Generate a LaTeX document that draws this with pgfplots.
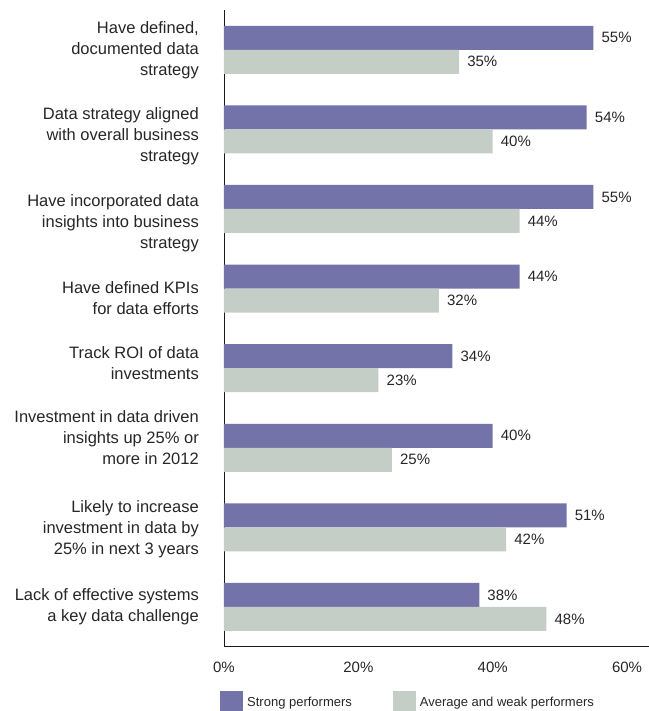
\documentclass[border=0pt]{standalone}
\usepackage{fontspec}
\setmainfont{Liberation Sans}
\usepackage{pgfplots}
\pgfplotsset{compat=1.18}
\definecolor{strong}{HTML}{7373A9}
\definecolor{weak}{HTML}{C4CEC6}
\definecolor{txt}{HTML}{262626}
\newcommand{\lab}[2]{\raisebox{#1}[0pt][0pt]{\begin{tabular}[t]{@{}r@{}}#2\end{tabular}}}
\begin{document}
\begin{tikzpicture}[x=1pt,y=1pt]
\useasboundingbox (-224,-65) rectangle (424,646);
\begin{axis}[
  at={(0,0)}, anchor=south west,
  scale only axis, width=429.9pt, height=636pt,
  xmin=0, xmax=64, ymin=-0.49, ymax=7.5,
  axis x line*=bottom, axis y line*=left,
  axis line style={black!90, line width=0.8pt},
  xtick={0,20,40,60}, xticklabels={0\%,20\%,40\%,60\%},
  ytick={0,1,2,3,4,5,6,7},
  yticklabels={
    {\lab{6pt}{Lack of effective systems\\a key data challenge}},
    {\lab{15pt}{Likely to increase\\investment in data by\\25\% in next 3 years}},
    {\lab{25pt}{Investment in data driven\\insights up 25\% or\\more in 2012}},
    {\lab{10pt}{Track ROI of data\\investments}},
    {\lab{-5pt}{Have defined KPIs\\for data efforts}},
    {\lab{2pt}{Have incorporated data\\insights into business\\strategy}},
    {\lab{9.6pt}{Data strategy aligned\\with overall business\\strategy}},
    {\lab{16pt}{Have defined,\\documented data\\strategy}}
  },
  major tick length=0pt,
  xticklabel style={font=\fontsize{15}{18}\selectfont, inner sep=0pt, yshift=-16pt, text=txt},
  yticklabel style={font=\fontsize{16.5}{21}\selectfont, inner sep=0pt, xshift=-25pt, anchor=east, text=txt},
  xbar, bar width=24pt,
  nodes near coords={\pgfmathprintnumber{\pgfplotspointmeta}\%},
  nodes near coords style={font=\fontsize{15}{18}\selectfont, anchor=west, inner sep=0pt, xshift=8pt, text=txt},
  /pgf/number format/assume math mode=true,
  legend columns=2,
  legend cell align=left,
  legend style={at={(axis description cs:0,0)}, anchor=north west, xshift=-4pt, yshift=-44.7pt,
    draw=none, fill=none, inner sep=0pt, font=\fontsize{13}{16}\selectfont, text=txt,
    /tikz/every odd column/.append style={column sep=2pt},
    /tikz/every even column/.append style={column sep=39pt}},
]
\addplot[fill=strong, draw=none, bar shift=12pt,
  legend image code/.code={\fill[strong] (0pt,-9pt) rectangle (23pt,12pt);}]
  coordinates {(38,0) (51,1) (40,2) (34,3) (44,4) (55,5) (54,6) (55,7)};
\addlegendentry{Strong performers}
\addplot[fill=weak, draw=none, bar shift=-12pt,
  legend image code/.code={\fill[weak] (0pt,-9pt) rectangle (23pt,12pt);}]
  coordinates {(48,0) (42,1) (25,2) (23,3) (32,4) (44,5) (40,6) (35,7)};
\addlegendentry{Average and weak performers}
\end{axis}
\end{tikzpicture}
\end{document}
